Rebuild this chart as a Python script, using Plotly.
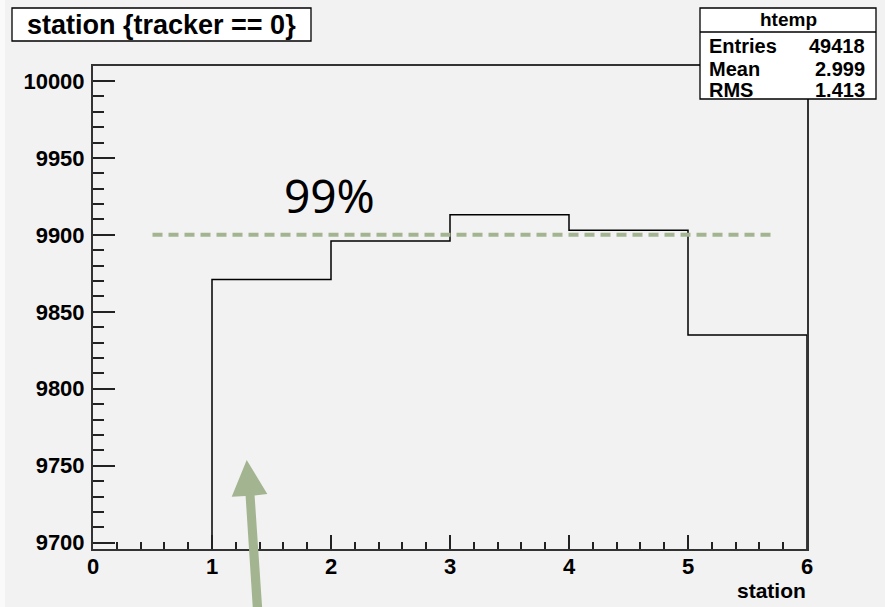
import numpy as np
import plotly.graph_objects as go

# Histogram of "station" for tracker == 0 (bin low edges are the station numbers)
station_edges = [0, 1, 2, 3, 4, 5, 6]
station_counts = [0, 9871, 9896, 9913, 9903, 9835]

# 99% reference level and its horizontal extent
ref_level = 9900
ref_x = [0.5, 5.7]
ref_label = "99%"

hist_name = "htemp"
plot_title = "station {tracker == 0}"
x_title = "station"

x_ticks = [0, 1, 2, 3, 4, 5, 6]
y_ticks = [9700, 9750, 9800, 9850, 9900, 9950, 10000]

# ---- statistics box values (integer station values, as filled) ----
vals = np.array(station_edges[:-1], dtype=float)
cnts = np.array(station_counts, dtype=float)
entries = int(cnts.sum())
mean = (vals * cnts).sum() / cnts.sum()
rms = np.sqrt((vals ** 2 * cnts).sum() / cnts.sum() - mean ** 2)

W, H = 885, 607
L, R, T, B = 93, 807, 66, 549


def px(x):
    return (x - L) / (R - L)


def py(y):
    return (B - y) / (B - T)


BG = "#F2F2F2"
SAGE = "#A3B590"
BOLD = dict(family="Liberation Sans, Arial, sans-serif", color="black", weight="bold")

# step outline of the histogram
step_x = list(station_edges) + [station_edges[-1]]
step_y = list(station_counts) + [station_counts[-1], 0]

fig = go.Figure()
fig.add_trace(go.Scatter(
    x=step_x, y=step_y, mode="lines", line=dict(color="black", width=1.5, shape="hv"),
    hoverinfo="skip", showlegend=False))
fig.add_trace(go.Scatter(
    x=ref_x, y=[ref_level, ref_level], mode="lines",
    line=dict(color=SAGE, width=4, dash="10px,6px"),
    hoverinfo="skip", showlegend=False))

fig.update_layout(
    width=W, height=H,
    margin=dict(l=L, r=W - R, t=T, b=H - B),
    paper_bgcolor=BG, plot_bgcolor=BG,
    showlegend=False,
)

fig.update_xaxes(
    range=[0, 6], tickvals=x_ticks, ticktext=[str(v) for v in x_ticks],
    ticks="inside", ticklen=14, tickwidth=1.5,
    tickcolor="#222", showgrid=False, zeroline=False,
    showline=True, linecolor="#333", linewidth=2, mirror=True,
    tickfont=dict(size=22, **BOLD), ticklabelstandoff=-3,
    minor=dict(dtick=0.2, ticks="inside", ticklen=7, tickwidth=1.5, tickcolor="#222", showgrid=False),
)
fig.update_yaxes(
    range=[9695.9, 10009.7], tickvals=y_ticks, ticktext=[str(v) for v in y_ticks],
    ticks="inside", ticklen=22, tickwidth=1.5,
    tickcolor="#222", showgrid=False, zeroline=False,
    showline=True, linecolor="#333", linewidth=2, mirror=True,
    tickfont=dict(size=22, **BOLD), ticklabelstandoff=2,
    minor=dict(dtick=10, ticks="inside", ticklen=11, tickwidth=1.5, tickcolor="#222", showgrid=False),
)

shapes = []
# thin light strip along the left edge of the page
shapes.append(dict(type="rect", xref="paper", yref="paper", x0=px(0), x1=px(5), y0=py(H), y1=py(0),
                   fillcolor="#FAFAFA", line=dict(width=0), layer="below"))
# title box
shapes.append(dict(type="rect", xref="paper", yref="paper", x0=px(12), x1=px(311), y0=py(41), y1=py(8),
                   fillcolor="white", line=dict(color="black", width=1.3)))
# statistics box with header divider
shapes.append(dict(type="rect", xref="paper", yref="paper", x0=px(700), x1=px(876), y0=py(99), y1=py(8),
                   fillcolor="white", line=dict(color="black", width=1.3)))
shapes.append(dict(type="line", xref="paper", yref="paper", x0=px(700), x1=px(876), y0=py(32), y1=py(32),
                   line=dict(color="black", width=1.3)))

# pointer arrow
arrow_pts = [(253.9, 625), (263.3, 625), (254.6, 495.5), (267.3, 494), (246.7, 460),
             (231.7, 496.7), (245.6, 496)]
path = "M " + " L ".join(f"{px(a):.5f},{py(b):.5f}" for a, b in arrow_pts) + " Z"
shapes.append(dict(type="path", xref="paper", yref="paper", path=path,
                   fillcolor=SAGE, line=dict(width=0)))
fig.update_layout(shapes=shapes)

ann = []


def text(x, y, s, size, xanchor="center", font=None):
    f = dict(size=size, **(font if font is not None else BOLD))
    ann.append(dict(x=px(x), y=py(y), xref="paper", yref="paper", text=s, showarrow=False,
                    xanchor=xanchor, yanchor="middle", font=f))


text(161.5, 25, plot_title, 27)
text(788, 20, hist_name, 19)
rows = [("Entries", f"{entries}", 46), ("Mean", f"{mean:.3f}", 69), ("RMS", f"{rms:.3f}", 90)]
for lab, val, yy in rows:
    text(707, yy, lab, 20, xanchor="left")
    text(867, yy, val, 20, xanchor="right")
text(808, 590, x_title, 21, xanchor="right")
text(329, 195, ref_label, 46, font=dict(family="Noto Sans, Open Sans, sans-serif", color="black"))
fig.update_layout(annotations=ann)

fig.write_html("out.html")
